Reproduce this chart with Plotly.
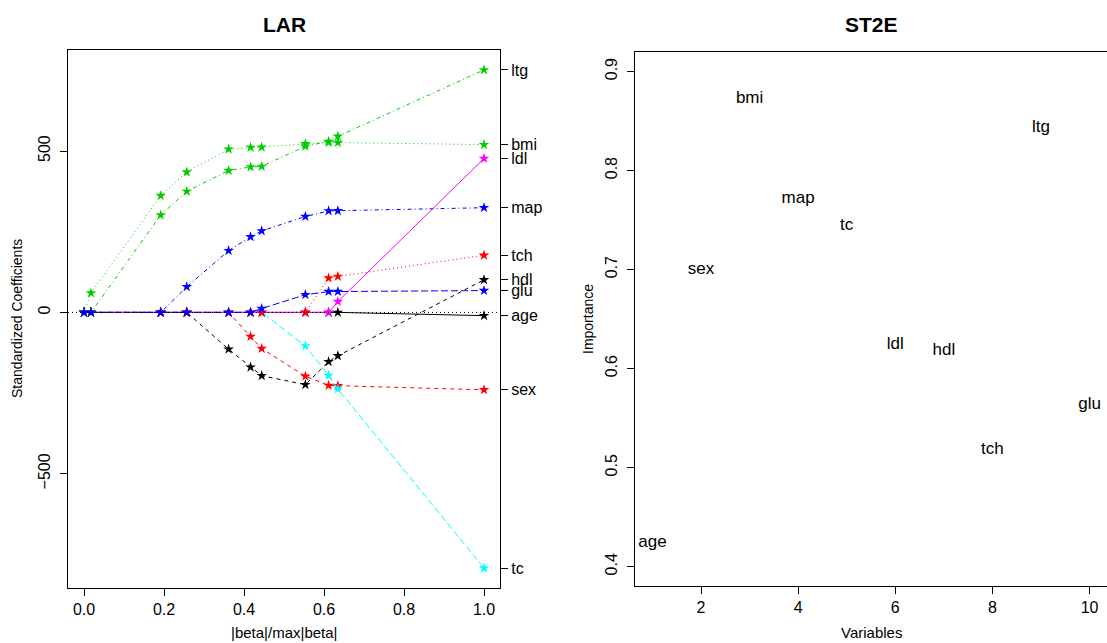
import plotly.graph_objects as go

# ---------------- data ----------------
var_names = ["age", "sex", "bmi", "map", "tc", "ldl", "hdl", "tch", "ltg", "glu"]

# |beta|/max|beta| at each LAR step
step_fraction = [0.0, 0.0174, 0.1918, 0.2569, 0.3615, 0.4164, 0.4442, 0.5534, 0.6115, 0.6346, 1.0]

coef_age = [0, 0, 0, 0, 0, 0, 0, 0, 0, 0, -10.01]
coef_sex = [0, 0, 0, 0, 0, -74.92, -111.98, -197.76, -226.13, -227.18, -239.82]
coef_bmi = [0, 60.12, 361.89, 434.76, 505.66, 511.35, 512.04, 522.26, 526.89, 526.39, 519.84]
coef_map = [0, 0, 0, 79.24, 191.27, 234.15, 252.53, 297.16, 314.39, 314.95, 324.39]
coef_tc = [0, 0, 0, 0, 0, 0, 0, -103.95, -195.11, -237.34, -792.18]
coef_ldl = [0, 0, 0, 0, 0, 0, 0, 0, 0, 33.63, 476.75]
coef_hdl = [0, 0, 0, 0, -114.10, -169.71, -196.05, -223.93, -152.48, -134.60, 101.04]
coef_tch = [0, 0, 0, 0, 0, 0, 0, 0, 106.34, 111.38, 177.06]
coef_ltg = [0, 0, 301.78, 374.92, 439.67, 450.67, 452.39, 514.75, 529.92, 545.48, 751.28]
coef_glu = [0, 0, 0, 0, 0, 0, 12.08, 54.77, 64.49, 64.61, 67.63]

# ST2E importance
var_index = [1, 2, 3, 4, 5, 6, 7, 8, 9, 10]
importance = [0.424, 0.700, 0.872, 0.772, 0.744, 0.624, 0.618, 0.518, 0.843, 0.563]

# ---------------- styles ----------------
coef_series = [coef_age, coef_sex, coef_bmi, coef_map, coef_tc,
               coef_ldl, coef_hdl, coef_tch, coef_ltg, coef_glu]
colors = ["#000000", "#FF0000", "#00CD00", "#0000FF", "#00FFFF",
          "#FF00FF", "#000000", "#FF0000", "#00CD00", "#0000FF"]
dashes = ["solid", "4px,4px", "1px,3px", "1px,3px,4px,3px", "7px,3px",
          "solid", "4px,4px", "1px,3px", "1px,3px,4px,3px", "7px,3px"]

W, H = 1107, 643
FONT = "Liberation Sans, Arial, sans-serif"


def px_x(p):
    return p / W


def px_y(p):
    return 1 - p / H


fig = go.Figure()

for name, vals, c, d in zip(var_names, coef_series, colors, dashes):
    fig.add_trace(go.Scatter(
        x=step_fraction, y=vals, mode="lines+markers", name=name,
        line=dict(color=c, width=1, dash=d),
        marker=dict(symbol="star", size=8, color=c, line=dict(width=0)),
        xaxis="x", yaxis="y", showlegend=False, hoverinfo="skip"))

# invisible trace to activate right axis of LAR plot
fig.add_trace(go.Scatter(x=[step_fraction[-1]], y=[coef_age[-1]], mode="markers",
                         marker=dict(opacity=0), xaxis="x", yaxis="y3",
                         showlegend=False, hoverinfo="skip"))

fig.add_trace(go.Scatter(
    x=var_index, y=importance, mode="text", text=var_names,
    textposition="middle center",
    textfont=dict(family=FONT, size=17, color="black"),
    xaxis="x2", yaxis="y2", showlegend=False, hoverinfo="skip"))

all_vals = [v for s in coef_series for v in s]
lo, hi = min(all_vals), max(all_vals)
pad = 0.04 * (hi - lo)
yr = [lo - pad, hi + pad]

final_vals = [s[-1] for s in coef_series]

axis_common = dict(showgrid=False, zeroline=False, showline=True, linecolor="black",
                   linewidth=1, ticks="outside", ticklen=7, tickcolor="black",
                   tickfont=dict(family=FONT, size=16, color="black"))

left_dom = [px_x(68), px_x(500)]
left_ydom = [px_y(588), px_y(50)]
right_dom = [px_x(635), 1.0]
right_ydom = [px_y(586), px_y(51.7)]

fig.update_layout(
    width=W, height=H, margin=dict(l=0, r=0, t=0, b=0),
    paper_bgcolor="white", plot_bgcolor="white",
    xaxis=dict(domain=left_dom, range=[-0.04, 1.04], anchor="y",
               tickvals=[0, 0.2, 0.4, 0.6, 0.8, 1.0],
               ticktext=["0.0", "0.2", "0.4", "0.6", "0.8", "1.0"],
               mirror=True, **axis_common),
    yaxis=dict(domain=left_ydom, range=yr, anchor="x",
               tickvals=[-500, 0, 500], ticktext=["\u2212500", "0", "500"],
               tickangle=-90, mirror=True, ticklabelstandoff=4, **axis_common),
    yaxis3=dict(overlaying="y", side="right", anchor="x", range=yr,
                tickvals=final_vals, ticktext=var_names, **axis_common),
    xaxis2=dict(domain=right_dom, range=[0.64, 10.36], anchor="y2",
                tickvals=[2, 4, 6, 8, 10], mirror=True, **axis_common),
    yaxis2=dict(domain=right_ydom, range=[0.3805, 0.92], anchor="x2",
                tickvals=[0.4, 0.5, 0.6, 0.7, 0.8, 0.9],
                ticktext=["0.4", "0.5", "0.6", "0.7", "0.8", "0.9"],
                tickangle=-90, ticklabelstandoff=4, **axis_common),
)

# horizontal dotted zero line
fig.add_shape(type="line", xref="x domain", yref="y", x0=0, x1=1, y0=0, y1=0,
              line=dict(color="black", width=1, dash="1px,3px"))

ann = [
    dict(text="<b>LAR</b>", x=px_x(284), y=px_y(24), size=21),
    dict(text="<b>ST2E</b>", x=px_x(871), y=px_y(24), size=21),
    dict(text="|beta|/max|beta|", x=px_x(284), y=px_y(632), size=15),
    dict(text="Variables", x=px_x(871), y=px_y(632), size=15),
]
for a in ann:
    fig.add_annotation(text=a["text"], x=a["x"], y=a["y"], xref="paper", yref="paper",
                       showarrow=False, xanchor="center", yanchor="middle",
                       font=dict(family=FONT, size=a["size"], color="black"))

fig.add_annotation(text="Standardized Coefficients", x=px_x(17), y=px_y(319),
                   xref="paper", yref="paper", showarrow=False, textangle=-90,
                   xanchor="center", yanchor="middle",
                   font=dict(family=FONT, size=14, color="black"))
fig.add_annotation(text="Importance", x=px_x(588), y=px_y(319),
                   xref="paper", yref="paper", showarrow=False, textangle=-90,
                   xanchor="center", yanchor="middle",
                   font=dict(family=FONT, size=14, color="black"))

fig.write_html(
    "out.html",
    config={"displayModeBar": False},
    post_script="document.body.style.margin='0';document.body.style.overflow='hidden';",
)
